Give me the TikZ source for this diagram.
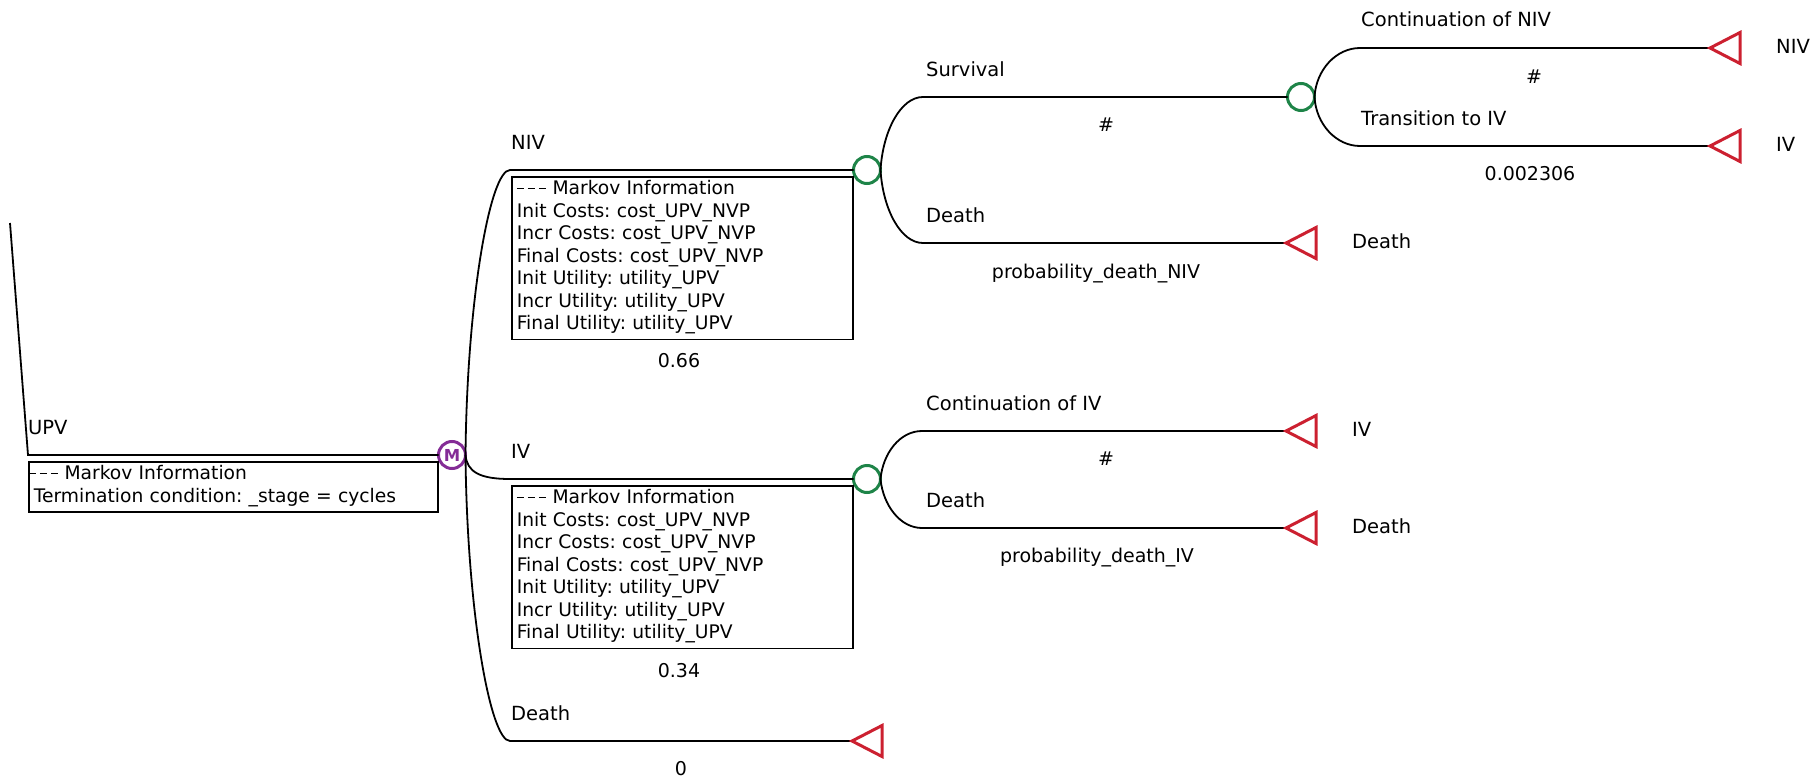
\documentclass[tikz,border=0pt]{standalone}
\usepackage{fontspec}
\setmainfont{DejaVu Sans}
\frenchspacing
\definecolor{chancegreen}{RGB}{30,132,72}
\definecolor{termred}{RGB}{204,32,48}
\definecolor{markovpurple}{RGB}{132,44,150}
% three spaced dashes that open each Markov information block
\newcommand{\mkdashes}{\rule[5.6pt]{7.5pt}{1.3pt}\kern3.5pt\rule[5.6pt]{7.5pt}{1.3pt}\kern3.5pt\rule[5.6pt]{7.5pt}{1.3pt}}
\begin{document}
\begin{tikzpicture}[x=1pt,y=-1pt,
  branch/.style={line width=1.8pt, black},
  chance/.style={circle, draw=chancegreen, line width=3pt, minimum size=27pt, inner sep=0pt, outer sep=0pt},
  markov/.style={circle, draw=markovpurple, line width=3pt, minimum size=27pt, inner sep=0pt, outer sep=0pt,
    text=markovpurple, font=\fontsize{16.5}{16.5}\selectfont\bfseries},
  term/.style={draw=termred, line width=3pt, line join=miter},
  lbl/.style={anchor=base west, inner sep=0pt, font=\fontsize{19.5}{22}\selectfont},
  prob/.style={anchor=base, inner sep=0pt, font=\fontsize{19}{22}\selectfont},
  infobox/.style={draw, line width=1.6pt, anchor=north west, inner xsep=5pt, inner ysep=0pt,
    align=left, font=\fontsize{18.7}{22.45}\selectfont}
]
\useasboundingbox (0,0) rectangle (1816,779);

% ---------- root: Markov node ----------
\coordinate (upvtop) at (10,223);
\coordinate (upvcorner) at (28,455);
\node[markov] (mk) at (452,455) {M};
\draw[branch] (upvtop) -- (upvcorner) -- (mk.west);
\node[lbl] (lupv) at (28,434) {UPV};
\node[infobox, text width=399pt] (boxupv) at (28,461)
  {\rule{0pt}{18pt}\hspace*{-5pt}\mkdashes\ Markov Information\\
   Termination condition: \_stage = cycles\rule[-10pt]{0pt}{10pt}};

% ---------- branches of the Markov node ----------
\coordinate (bniv) at (510,170);
\coordinate (biv) at (510,479);
\coordinate (bdeath) at (510,741);
\node[chance] (cniv) at (867,170) {};
\node[chance] (civ) at (867,479) {};
\coordinate (tdeath0) at (852,741);

\draw[branch] (mk.east) .. controls (467,300) and (490,170) .. (bniv) -- (cniv.west);
\draw[branch] (mk.east) .. controls (467,472) and (480,479) .. (biv) -- (civ.west);
\draw[branch] (mk.east) .. controls (467,610) and (490,741) .. (bdeath) -- (tdeath0);
\draw[term] (tdeath0) -- ++(30,-15.5) -- ++(0,31) -- cycle;

\node[lbl] (lniv) at (511,149) {NIV};
\node[infobox, text width=331pt] (boxniv) at (511,176)
  {\rule{0pt}{18pt}\mkdashes\ Markov Information\\
   Init Costs: cost\_UPV\_NVP\\
   Incr Costs: cost\_UPV\_NVP\\
   Final Costs: cost\_UPV\_NVP\\
   Init Utility: utility\_UPV\\
   Incr Utility: utility\_UPV\\
   Final Utility: utility\_UPV\rule[-10pt]{0pt}{10pt}};
\node[prob] (pniv) at (679,367) {0.66};

\node[lbl] (liv) at (511,458) {IV};
\node[infobox, text width=331pt] (boxiv) at (511,485)
  {\rule{0pt}{18pt}\mkdashes\ Markov Information\\
   Init Costs: cost\_UPV\_NVP\\
   Incr Costs: cost\_UPV\_NVP\\
   Final Costs: cost\_UPV\_NVP\\
   Init Utility: utility\_UPV\\
   Incr Utility: utility\_UPV\\
   Final Utility: utility\_UPV\rule[-10pt]{0pt}{10pt}};
\node[prob] (piv) at (679,677) {0.34};

\node[lbl] (ldeath0) at (511,720) {Death};
\node[prob] (pdeath0) at (681,775) {0};

% ---------- NIV state ----------
\coordinate (bsurv) at (923,97);
\coordinate (bnd) at (923,243);
\node[chance] (csurv) at (1301,97) {};
\coordinate (tnd) at (1286,243);
\draw[branch] (cniv.east) .. controls (883,130) and (901,97) .. (bsurv) -- (csurv.west);
\draw[branch] (cniv.east) .. controls (883,210) and (901,243) .. (bnd) -- (tnd);
\draw[term] (tnd) -- ++(30,-15.5) -- ++(0,31) -- cycle;

\node[lbl] (lsurv) at (926,76) {Survival};
\node[prob] (psurv) at (1106,131) {\#};
\node[lbl] (lnd) at (926,222) {Death};
\node[prob] (pnd) at (1096,278) {probability\_death\_NIV};
\node[lbl] (end1) at (1352,248) {Death};

% ---------- Survival ----------
\coordinate (bcont) at (1360,48);
\coordinate (btrans) at (1360,146);
\coordinate (tcont) at (1710,48);
\coordinate (ttrans) at (1710,146);
\draw[branch] (csurv.east) .. controls (1316,70) and (1336,48) .. (bcont) -- (tcont);
\draw[branch] (csurv.east) .. controls (1316,124) and (1336,146) .. (btrans) -- (ttrans);
\draw[term] (tcont) -- ++(30,-15.5) -- ++(0,31) -- cycle;
\draw[term] (ttrans) -- ++(30,-15.5) -- ++(0,31) -- cycle;

\node[lbl] (lcont) at (1361,27) {Continuation of NIV};
\node[prob] (pcont) at (1534,83) {\#};
\node[lbl] (ltrans) at (1361,125) {Transition to IV};
\node[prob] (ptrans) at (1530,180) {0.002306};
\node[lbl] (end2) at (1776,53) {NIV};
\node[lbl] (end3) at (1776,151) {IV};

% ---------- IV state ----------
\coordinate (bciv) at (922,431);
\coordinate (bdiv) at (922,528);
\coordinate (tciv) at (1286,431);
\coordinate (tdiv) at (1286,528);
\draw[branch] (civ.east) .. controls (883,453) and (900,431) .. (bciv) -- (tciv);
\draw[branch] (civ.east) .. controls (883,505) and (900,528) .. (bdiv) -- (tdiv);
\draw[term] (tciv) -- ++(30,-15.5) -- ++(0,31) -- cycle;
\draw[term] (tdiv) -- ++(30,-15.5) -- ++(0,31) -- cycle;

\node[lbl] (lciv) at (926,410) {Continuation of IV};
\node[prob] (pciv) at (1106,465) {\#};
\node[lbl] (ldiv) at (926,507) {Death};
\node[prob] (pdiv) at (1097,562) {probability\_death\_IV};
\node[lbl] (end4) at (1352,436) {IV};
\node[lbl] (end5) at (1352,533) {Death};
\end{tikzpicture}
\end{document}
